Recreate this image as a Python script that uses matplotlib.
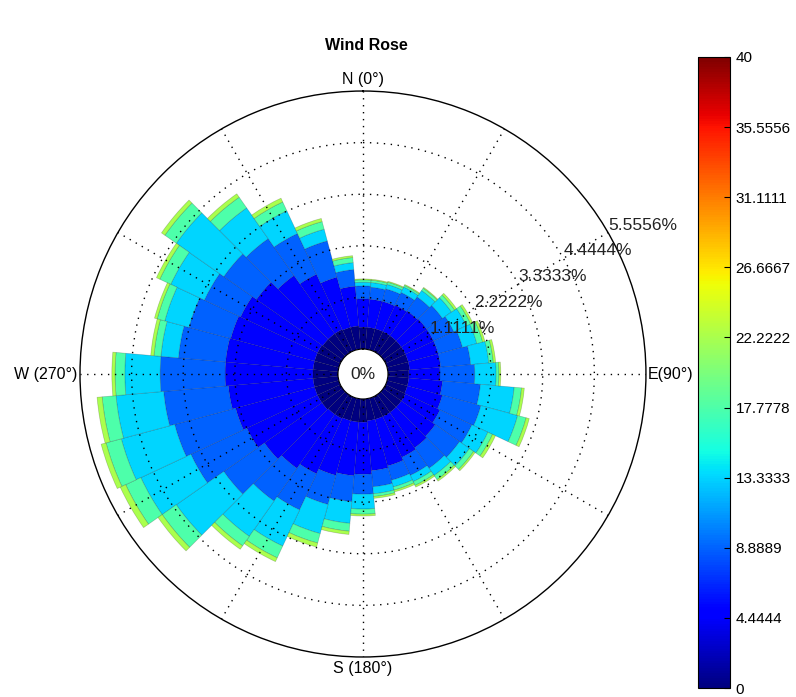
import numpy as np
import matplotlib
matplotlib.use("Agg")
import matplotlib.pyplot as plt
from matplotlib import cm, colors

plt.rcParams['font.family'] = ['Liberation Sans', 'DejaVu Sans']

# ---- data -------------------------------------------------------------
directions = np.arange(0, 360, 10)            # sector centres, degrees from North
speed_edges = np.linspace(0, 40, 10)           # speed class edges
cbar_labels = ['0', '4.4444', '8.8889', '13.3333', '17.7778',
               '22.2222', '26.6667', '31.1111', '35.5556', '40']
ring_values = [1.1111, 2.2222, 3.3333, 4.4444, 5.5556]
ring_labels = ['1.1111%', '2.2222%', '3.3333%', '4.4444%', '5.5556%']

# cumulative frequency (%) per direction of records slower than each class edge
cum_lt_4 = [0.47, 0.47, 0.47, 0.47, 0.47, 0.47, 0.47, 0.47, 0.47, 0.45, 0.45, 0.45,
            0.47, 0.47, 0.47, 0.47, 0.47, 0.47, 0.50, 0.50, 0.50, 0.52, 0.52, 0.54,
            0.54, 0.54, 0.54, 0.54, 0.54, 0.54, 0.54, 0.52, 0.52, 0.52, 0.50, 0.50]
cum_lt_9 = [1.08, 1.08, 1.08, 1.10, 1.12, 1.14, 1.14, 1.14, 1.14, 1.12, 1.18, 1.23,
            1.29, 1.36, 1.40, 1.44, 1.51, 1.55, 1.62, 1.66, 1.72, 1.83, 1.94, 2.05,
            2.22, 2.30, 2.37, 2.43, 2.43, 2.41, 2.37, 2.26, 2.05, 1.83, 1.62, 1.36]
cum_lt_13 = [1.36, 1.34, 1.36, 1.40, 1.49, 1.55, 1.62, 1.68, 1.79, 1.87, 2.00, 2.09,
             2.05, 2.00, 1.94, 1.87, 1.83, 1.90, 2.05, 2.22, 2.37, 2.69, 2.80, 3.12,
             3.55, 3.66, 3.77, 3.83, 3.45, 3.34, 3.23, 3.12, 3.02, 2.80, 2.43, 1.72]
cum_lt_18 = [1.44, 1.44, 1.46, 1.53, 1.66, 1.79, 1.92, 2.00, 2.18, 2.33, 2.73, 2.91,
             2.43, 2.26, 2.13, 2.02, 1.98, 2.05, 2.37, 2.69, 3.02, 3.55, 3.73, 4.37,
             4.74, 4.85, 4.80, 4.59, 3.83, 3.88, 4.03, 4.37, 3.83, 3.34, 2.69, 1.87]
cum_lt_22 = [1.49, 1.49, 1.51, 1.57, 1.72, 1.87, 2.02, 2.13, 2.28, 2.39, 2.89, 3.10,
             2.54, 2.37, 2.24, 2.11, 2.05, 2.11, 2.48, 2.86, 3.23, 3.83, 3.98, 4.74,
             5.10, 5.19, 5.10, 4.80, 3.98, 4.05, 4.29, 4.67, 4.11, 3.55, 2.86, 1.98]
cum_lt_27 = [1.51, 1.51, 1.53, 1.59, 1.74, 1.92, 2.07, 2.18, 2.33, 2.43, 2.95, 3.17,
             2.61, 2.41, 2.28, 2.15, 2.09, 2.15, 2.52, 2.93, 3.32, 3.92, 4.07, 4.85,
             5.23, 5.30, 5.21, 4.87, 4.05, 4.11, 4.37, 4.76, 4.20, 3.64, 2.93, 2.02]

# ---- figure -----------------------------------------------------------
fig = plt.figure(figsize=(7.96, 6.97), dpi=100)
ax = fig.add_axes([0.1005, 0.0574, 0.711, 0.812], projection='polar')
ax.set_theta_zero_location('N')
ax.set_theta_direction(-1)
rmax = ring_values[-1]
ax.set_ylim(0, rmax)
ax.set_rorigin(-0.538)
ax.grid(False)
ax.set_xticks([])
ax.set_yticks([])
ax.spines['polar'].set_linewidth(1.0)
ax.spines['inner'].set_visible(False)

cmap = plt.get_cmap('jet')
norm = colors.Normalize(vmin=speed_edges[0], vmax=speed_edges[-1])

levels = np.vstack([np.zeros(len(directions)), cum_lt_4, cum_lt_9, cum_lt_13,
                    cum_lt_18, cum_lt_22, cum_lt_27])
theta = np.deg2rad(directions)
width = np.deg2rad(10)
for i in range(levels.shape[0] - 1):
    ax.bar(theta, levels[i + 1] - levels[i], width=width, bottom=levels[i],
           color=cmap(norm(speed_edges[i])), edgecolor=(0, 0, 0, 0.22),
           linewidth=0.5, zorder=2)

# dotted grid drawn over the sectors
tt = np.linspace(0, 2 * np.pi, 721)
dots = (0, (1, 4))
for rv in ring_values[:-1]:
    ax.plot(tt, np.full_like(tt, rv), color='k', lw=1.0, ls=dots, zorder=3)
for a in range(0, 360, 30):
    ax.plot([np.deg2rad(a)] * 2, [0, rmax], color='k', lw=1.0, ls=dots, zorder=3)

for rv, lab in zip(ring_values, ring_labels):
    ax.text(np.deg2rad(60), rv, lab, ha='left', va='bottom', fontsize=12.5,
            color='#222222', zorder=4, clip_on=False)

ax.text(0.5, 0.5, '0%', transform=ax.transAxes, ha='center', va='center',
        fontsize=12.5, color='#222222')

kw = dict(xycoords='axes fraction', textcoords='offset points', fontsize=11.5)
ax.annotate('N (0°)', xy=(0.5, 1), xytext=(0, 3), ha='center', va='bottom', **kw)
ax.annotate('S (180°)', xy=(0.5, 0), xytext=(0, -3), ha='center', va='top', **kw)
ax.annotate('W (270°)', xy=(0, 0.5), xytext=(-2, 0), ha='right', va='center', **kw)
ax.annotate('E(90°)', xy=(1, 0.5), xytext=(1, 0), ha='left', va='center', **kw)

fig.text(366 / 796, 1 - 45 / 697, 'Wind Rose', ha='center', va='center',
         fontweight='bold', fontsize=11.5)

# colour bar
cax = fig.add_axes([698 / 796, 9 / 697, 32 / 796, 631 / 697])
sm = cm.ScalarMappable(norm=norm, cmap=cmap)
cb = fig.colorbar(sm, cax=cax, ticks=speed_edges)
cb.ax.set_yticklabels(cbar_labels, fontsize=11)
cb.ax.tick_params(direction='in', length=4, width=0.8, pad=4)
cb.outline.set_linewidth(0.8)

fig.savefig('out.png', dpi=100)
